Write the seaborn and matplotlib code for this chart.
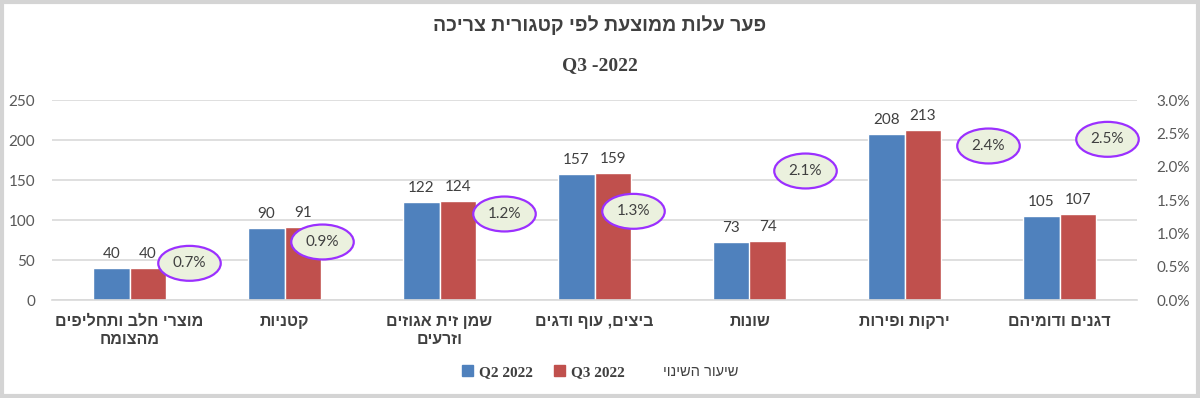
import pandas as pd
import matplotlib
matplotlib.use('Agg')
import matplotlib.pyplot as plt
from matplotlib.patches import Rectangle, Patch
from matplotlib.lines import Line2D
from matplotlib.ticker import FuncFormatter
import seaborn as sns

# data (Hebrew strings kept in logical order, reversed for display)
categories = ['מוצרי חלב ותחליפים\nמהצומח', 'קטניות', 'שמן זית אגוזים\nוזרעים',
              'ביצים, עוף ודגים', 'שונות', 'ירקות ופירות', 'דגנים ודומיהם']
q2_2022 = [40, 90, 122, 157, 73, 208, 105]
q3_2022 = [40, 91, 124, 159, 74, 213, 107]
change_pct = [0.007, 0.009, 0.012, 0.013, 0.021, 0.024, 0.025]
series_names = ['Q2 2022', 'Q3 2022']
change_name = 'שיעור השינוי'
title_main = 'פער עלות ממוצעת לפי קטגורית צריכה'
title_sub = 'Q3 -2022'

# label nudges (pixels) for the change callouts
label_dx = [60, 38, 65, 39, 56, 84, 48]
label_dy = [-10, -2, 6, 2, -11, -6, -6]


def rtl(s):
    return '\n'.join(line[::-1] for line in s.split('\n'))


BLUE = '#4F81BD'
RED = '#C0504D'
GRID = '#D9D9D9'
TXT = '#404040'
TICK = '#595959'
SERIF = ['Liberation Serif', 'DejaVu Sans']
HEB = ['Liberation Sans', 'DejaVu Sans']
SANS = ['Lato', 'Liberation Sans', 'DejaVu Sans']

sns.set_style('white')
plt.rcParams['font.family'] = SANS

df = pd.DataFrame({
    'cat': categories * 2,
    'value': q2_2022 + q3_2022,
    'series': [series_names[0]] * 7 + [series_names[1]] * 7,
})

fig = plt.figure(figsize=(12, 3.98), dpi=100)
ax = fig.add_axes([52 / 1200, 1 - 300 / 398, 1085 / 1200, 200 / 398])

sns.barplot(data=df, x='cat', y='value', hue='series', order=categories,
            hue_order=series_names, palette=[BLUE, RED], width=0.47,
            saturation=1, ax=ax, legend=False)

for cont in ax.containers:
    ax.bar_label(cont, padding=5, color=TXT, fontsize=11, family=SANS)

ax.set_ylim(0, 250)
ax.set_yticks(range(0, 251, 50))
ax.set_xlim(-0.5, 6.5)
ax.set_xticks(range(7))
ax.set_xticklabels([rtl(c) for c in categories], family=HEB, fontweight='bold',
                   fontsize=11.5, color=TXT, multialignment='center', linespacing=1.25)
ax.set_xlabel('')
ax.set_ylabel('')
ax.grid(axis='y', color=GRID, linewidth=1.2)
ax.set_axisbelow(True)
ax.tick_params(axis='x', length=0, pad=10)
ax.tick_params(axis='y', length=0, pad=12, labelcolor=TICK, labelsize=11)
for s in ['left', 'right', 'top']:
    ax.spines[s].set_visible(False)
ax.spines['bottom'].set_color(GRID)
ax.spines['bottom'].set_linewidth(1.2)

ax2 = ax.twinx()
ax2.set_ylim(0, 0.03)
ax2.set_yticks([i * 0.005 for i in range(7)])
ax2.yaxis.set_major_formatter(FuncFormatter(lambda v, p: f'{v * 100:.1f}%'))
ax2.tick_params(axis='y', length=0, pad=14, labelcolor=TICK, labelsize=11)
for s in ax2.spines.values():
    s.set_visible(False)

for i, v in enumerate(change_pct):
    ax2.annotate(f'{v * 100:.1f}%', xy=(i, v), xytext=(label_dx[i], label_dy[i]),
                 textcoords='offset pixels', ha='center', va='center',
                 fontsize=11, color=TXT, family=SANS,
                 bbox=dict(boxstyle='ellipse,pad=0.35', fc='#EBF1DE', ec='#9B30FF', lw=1.6))

# titles
fig.text(0.5, 1 - 25 / 398, rtl(title_main), ha='center', va='center',
         fontsize=14, fontweight='bold', family=HEB, color=TXT)
fig.text(0.5, 1 - 66 / 398, title_sub, ha='center', va='center',
         fontsize=14, fontweight='bold', family=SERIF, color=TXT)

# legend
handles = [Patch(color=BLUE), Patch(color=RED), Line2D([], [], color='none')]
leg = fig.legend(handles, series_names + [rtl(change_name)], loc='center',
                 bbox_to_anchor=(0.5, 1 - 372 / 398), ncol=3, frameon=False,
                 handlelength=0.7, handleheight=0.7, handletextpad=0.4,
                 columnspacing=1.4, fontsize=11)
for t in leg.get_texts()[:2]:
    t.set_family(SERIF)
    t.set_fontweight('bold')
    t.set_color(TXT)
leg.get_texts()[2].set_family(HEB)
leg.get_texts()[2].set_fontsize(10.5)
leg.get_texts()[2].set_color(TXT)

# outer frame
fig.patches.append(Rectangle((0.0015, 0.004), 0.997, 0.992, transform=fig.transFigure,
                             fill=False, ec='#D4D4D4', lw=3))

fig.savefig('out.png', dpi=100)
